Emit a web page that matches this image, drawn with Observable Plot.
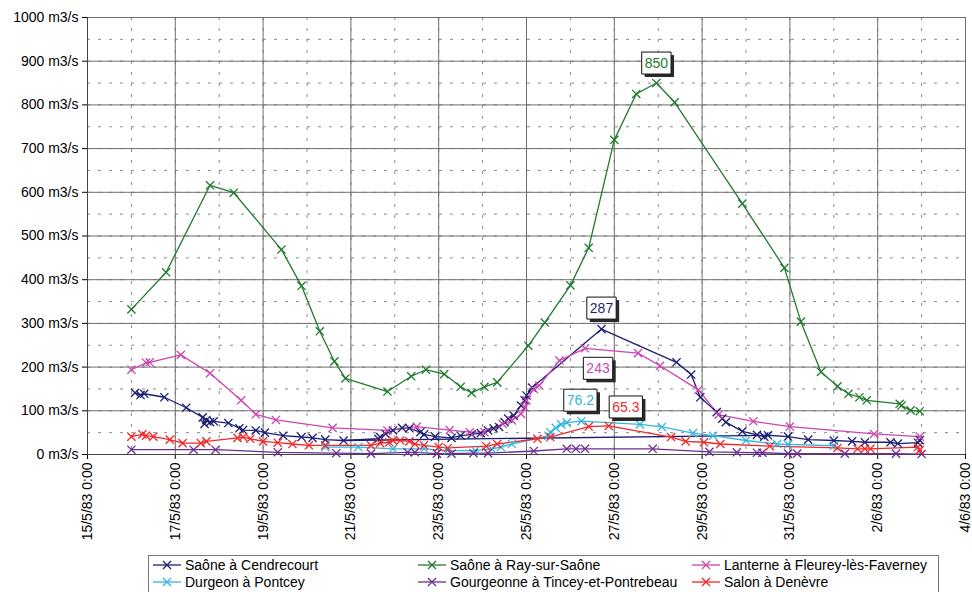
<!DOCTYPE html>
<html><head><meta charset="utf-8">
<script src="https://cdn.jsdelivr.net/npm/d3@7"></script>
<script src="https://cdn.jsdelivr.net/npm/@observablehq/plot@0.6"></script>
<style>
body{margin:0;background:#fff;font-family:"Liberation Sans",Arial,sans-serif;}
#chart{position:relative;width:972px;height:592px;overflow:hidden;background:#fff;}
#legend{position:absolute;left:148px;top:555px;width:791px;height:50px;border:1px solid #777;box-sizing:border-box;font-size:14px;line-height:16px;color:#000;}
.item{position:absolute;height:18px;display:flex;align-items:center;white-space:nowrap;}
.item svg{margin-right:3px;}
</style></head><body><div id="chart"></div>
<script>
// ---------- data ----------
const seriesNames = ["Saône à Cendrecourt","Saône à Ray-sur-Saône","Lanterne à Fleurey-lès-Faverney","Durgeon à Pontcey","Gourgeonne à Tincey-et-Pontrebeau","Salon à Denèvre"];
const seriesColors = ["#1c1f73","#1f7a2e","#cc45b0","#35b4e0","#6b2e94","#f02828"];

const cendrecourtTime = ["05-16 02:00","05-16 05:00","05-16 07:00","05-16 18:00","05-17 06:00","05-17 15:00","05-17 16:00","05-17 17:00","05-17 19:00","05-17 21:00","05-18 05:00","05-18 11:00","05-18 13:00","05-18 20:00","05-19 01:00","05-19 11:00","05-19 21:00","05-20 03:00","05-20 10:00","05-20 20:00",
"05-21 15:00","05-21 16:00","05-21 19:00","05-21 23:00","05-22 04:00","05-22 08:00","05-22 14:00","05-22 16:00","05-22 22:00","05-23 07:00","05-23 12:00","05-23 18:00","05-23 23:00","05-24 03:00","05-24 06:00","05-24 09:00","05-24 12:00","05-24 14:00","05-24 17:00","05-24 21:00","05-24 23:00","05-25 00:00","05-25 03:00","05-26 17:00","05-28 10:00","05-28 18:00","05-28 23:00","05-29 08:00","05-29 11:00","05-29 13:00","05-29 22:00","05-30 06:00","05-30 10:00",
"05-30 12:00","05-30 23:00","05-31 10:00","06-01 00:00","06-01 10:00","06-01 17:00","06-02 07:00","06-02 11:00","06-02 22:00","06-02 23:00"];
const cendrecourtFlow = [141,136,139,131,107,85,70,79,74,76,72,60,56,55,50,43,40,38,34,32,
36,40,47,55,61,60,51,46,41,38,43,46,49,55,60,63,74,82,89,112,124,135,153,287,211,183,131,97,82,74,53,45,41,
44,41,34,32,30,28,28,25,27,33];
// Excel joined the end of the first record straight to the tail of the record
const cendrecourtJump = ["05-20 20:00","05-30 12:00"];

const rayTime = ["05-16 00:00","05-16 19:00","05-17 19:00","05-18 08:00","05-19 10:00","05-19 21:00","05-20 07:00","05-20 15:00","05-20 21:00","05-21 20:00","05-22 09:00","05-22 17:00","05-23 03:00","05-23 12:00","05-23 18:00","05-24 01:00","05-24 08:00","05-25 01:00","05-25 10:00","05-26 00:00","05-26 10:00","05-27 00:00","05-27 12:00","05-27 23:00","05-28 09:00","05-29 22:00","05-30 21:00","05-31 06:00","05-31 17:00","06-01 02:00","06-01 08:00","06-01 14:00","06-01 18:00","06-02 12:00","06-02 13:00","06-02 18:00","06-02 23:00"];
const rayFlow = [332,417,616,599,469,386,282,213,174,144,179,194,184,155,141,155,165,249,302,387,473,720,825,850,806,574,427,304,189,156,139,131,124,116,112,101,99];

const lanterneTime = ["05-16 00:00","05-16 08:00","05-16 10:00","05-17 03:00","05-17 19:00","05-18 12:00","05-18 20:00","05-19 07:00","05-20 14:00","05-21 20:00","05-22 12:00","05-23 06:00","05-23 17:00","05-24 01:00","05-24 11:00","05-24 16:00","05-24 21:00","05-24 23:00","05-25 00:00","05-25 04:00","05-25 07:00","05-25 18:00","05-26 08:00","05-27 13:00","05-28 01:00","05-28 22:00","05-29 09:00","05-30 04:00","05-31 00:00","06-01 22:00","06-02 23:00"];
const lanterneFlow = [194,210,211,228,186,124,92,79,61,55,64,56,51,51,70,78,93,108,124,150,158,215,243,232,203,148,91,76,64,47,41];

const durgeonTime = ["05-20 10:00","05-21 04:00","05-21 23:00","05-22 16:00","05-23 05:00","05-23 20:00","05-24 05:00","05-24 10:00","05-24 16:00","05-25 12:00","05-25 13:00","05-25 16:00","05-25 19:00","05-25 22:00","05-26 06:00","05-27 14:00","05-28 02:00","05-28 19:00","05-29 06:00","05-30 00:00","05-30 17:00","05-30 23:00","06-01 00:00"];
const durgeonFlow = [17,17,13,13,9,9,13,17,24,43,51,61,69,73,76.2,69,63,49,43,32,24,23,20];

const gourgeonneTime = ["05-16 00:00","05-17 10:00","05-17 22:00","05-19 08:00","05-20 16:00","05-21 11:00","05-22 07:00","05-22 11:00","05-22 23:00","05-23 07:00","05-23 19:00","05-24 03:00","05-25 04:00","05-25 22:00","05-26 03:00","05-26 08:00","05-27 21:00","05-29 04:00","05-29 19:00","05-30 06:00","05-30 09:00","05-30 23:00","05-31 04:00","06-01 06:00","06-02 10:00","06-03 00:00"];
const gourgeonneFlow = [11,11,11,5,3,2,5,5,2,2,3,3,8,13,13,13,13,6,5,4,4,2,2,2,2,1];

const salonTime = ["05-16 00:00","05-16 06:00","05-16 08:00","05-16 12:00","05-16 21:00","05-17 04:00","05-17 14:00","05-17 17:00","05-18 10:00","05-18 13:00","05-18 17:00","05-19 00:00","05-19 08:00","05-19 16:00","05-20 01:00","05-20 10:00","05-21 11:00","05-21 16:00","05-21 21:00","05-21 23:00","05-22 03:00","05-22 08:00","05-22 11:00","05-22 16:00","05-23 00:00","05-23 05:00","05-24 02:00","05-24 08:00","05-25 06:00","05-25 13:00","05-26 10:00","05-26 21:00","05-28 07:00","05-28 15:00","05-29 01:00","05-29 10:00","05-30 13:00","06-01 02:00","06-01 13:00","06-01 17:00","06-01 20:00","06-02 22:00","06-02 23:00"];
const salonFlow = [41,46,43,41,34,26,26,30,38,40,36,30,27,24,21,21,21,26,28,32,32,30,24,21,17,15,19,24,36,40,64,65.3,40,30,28,24,19,15,13,13,13,17,10];

const labelSeries = ["Saône à Ray-sur-Saône","Saône à Cendrecourt","Lanterne à Fleurey-lès-Faverney","Durgeon à Pontcey","Salon à Denèvre"];
const labelTime = ["05-27 23:00","05-26 17:00","05-26 08:00","05-26 06:00","05-26 21:00"];
const labelValue = [850,287,243,76.2,65.3];
const labelText = ["850","287","243","76.2","65.3"];

const xDomain = ["05-15 00:00","06-04 00:00"];
const xTickTime = ["05-15 00:00","05-17 00:00","05-19 00:00","05-21 00:00","05-23 00:00","05-25 00:00","05-27 00:00","05-29 00:00","05-31 00:00","06-02 00:00","06-04 00:00"];
const xTickLabels = ["15/5/83 0:00","17/5/83 0:00","19/5/83 0:00","21/5/83 0:00","23/5/83 0:00","25/5/83 0:00","27/5/83 0:00","29/5/83 0:00","31/5/83 0:00","2/6/83 0:00","4/6/83 0:00"];
const yTickValues = [0,100,200,300,400,500,600,700,800,900,1000];
const yTickLabels = ["0 m3/s","100 m3/s","200 m3/s","300 m3/s","400 m3/s","500 m3/s","600 m3/s","700 m3/s","800 m3/s","900 m3/s","1000 m3/s"];

// ---------- build ----------
const parse = d3.utcParse("%Y-%m-%d %H:%M");
const toDate = s => parse("1983-" + s);
const seriesTimes = [cendrecourtTime, rayTime, lanterneTime, durgeonTime, gourgeonneTime, salonTime];
const seriesFlows = [cendrecourtFlow, rayFlow, lanterneFlow, durgeonFlow, gourgeonneFlow, salonFlow];
const rows = seriesNames.flatMap((name, k) => seriesTimes[k].map((t, i) => ({series: name, date: toDate(t), flow: seriesFlows[k][i]})));

const findRow = (name, t) => rows.find(r => r.series === name && +r.date === +toDate(t));
const jumpA = findRow(seriesNames[0], cendrecourtJump[0]);
const jumpB = findRow(seriesNames[0], cendrecourtJump[1]);

const xTickDates = xTickTime.map(toDate);
const dayLines = d3.utcDay.range(toDate(xDomain[0]), d3.utcDay.offset(toDate(xDomain[1]), 1));
const halfLines = d3.range(0, 1001, 50);
const colorOf = name => seriesColors[seriesNames.indexOf(name)];

const FONT = "14px 'Liberation Sans', Arial, sans-serif";
const ctx = document.createElement("canvas").getContext("2d");
ctx.font = FONT;
const labelOffsets = [[0,-20],[0,-21],[13,20],[-1,-21],[17,-19]];

const labelMarks = labelText.flatMap((txt, i) => {
  const d = [{date: toDate(labelTime[i]), flow: labelValue[i], text: txt}];
  const w = ctx.measureText(txt).width + 6, h = 22;
  const box = {draw(c) { c.rect(-w / 2, -h / 2, w, h); }};
  const [dx, dy] = labelOffsets[i];
  return [
    Plot.dot(d, {x: "date", y: "flow", symbol: box, r: 5, fill: "#2a2a2a", stroke: "none", dx: dx + 3, dy: dy + 3}),
    Plot.dot(d, {x: "date", y: "flow", symbol: box, r: 5, fill: "white", stroke: "#111", strokeWidth: 1, dx, dy}),
    Plot.text(d, {x: "date", y: "flow", text: "text", fill: colorOf(labelSeries[i]), fontSize: 14, dx, dy: dy + 0.5})
  ];
});

const chart = Plot.plot({
  width: 972,
  height: 552,
  marginLeft: 87,
  marginRight: 7,
  marginTop: 17,
  marginBottom: 98,
  style: {fontFamily: "'Liberation Sans', Arial, sans-serif", fontSize: "14px", color: "#000", background: "#fff", overflow: "visible"},
  x: {type: "utc", domain: xDomain.map(toDate), ticks: xTickDates,
      tickFormat: d => xTickLabels[xTickDates.findIndex(t => +t === +d)],
      tickRotate: -90, tickSize: 5, tickPadding: 3, label: null},
  y: {domain: [0, 1000], ticks: yTickValues,
      tickFormat: d => yTickLabels[yTickValues.indexOf(d)],
      tickSize: 5, tickPadding: 4, label: null},
  color: {domain: seriesNames, range: seriesColors},
  marks: [
    Plot.ruleX(dayLines, {stroke: "#8a8a8a", strokeDasharray: "3,8", strokeWidth: 1}),
    Plot.ruleY(halfLines, {stroke: "#8a8a8a", strokeDasharray: "3,8", strokeWidth: 1}),
    Plot.ruleX(xTickDates, {stroke: "#6e6e6e", strokeWidth: 1}),
    Plot.ruleY(yTickValues, {stroke: "#6e6e6e", strokeWidth: 1}),
    Plot.ruleX([toDate(xDomain[0])], {stroke: "#444"}),
    Plot.ruleY([0], {stroke: "#444"}),
    Plot.link([{a: jumpA, b: jumpB}], {x1: d => d.a.date, y1: d => d.a.flow, x2: d => d.b.date, y2: d => d.b.flow, stroke: seriesColors[0], strokeWidth: 1.3}),
    Plot.line(rows, {x: "date", y: "flow", z: "series", stroke: "series", strokeWidth: 1.3}),
    Plot.dot(rows, {x: "date", y: "flow", stroke: "series", symbol: "times", r: 3.8, strokeWidth: 1.3}),
    ...labelMarks
  ]
});

const host = document.getElementById("chart");
host.appendChild(chart);

// ---------- legend ----------
const legend = document.createElement("div");
legend.id = "legend";
const colLeft = [3, 268, 542];
const rowTop = [0, 17];
seriesNames.forEach((name, i) => {
  const item = document.createElement("div");
  item.className = "item";
  item.style.left = colLeft[i % 3] + "px";
  item.style.top = rowTop[Math.floor(i / 3)] + "px";
  const c = seriesColors[i];
  item.innerHTML = `<svg width="30" height="12"><line x1="1" y1="6" x2="29" y2="6" stroke="${c}" stroke-width="1.3"/><path d="M11,2L19,10M19,2L11,10" stroke="${c}" stroke-width="1.3"/></svg><span>${name}</span>`;
  legend.appendChild(item);
});
host.appendChild(legend);
</script></body></html>
